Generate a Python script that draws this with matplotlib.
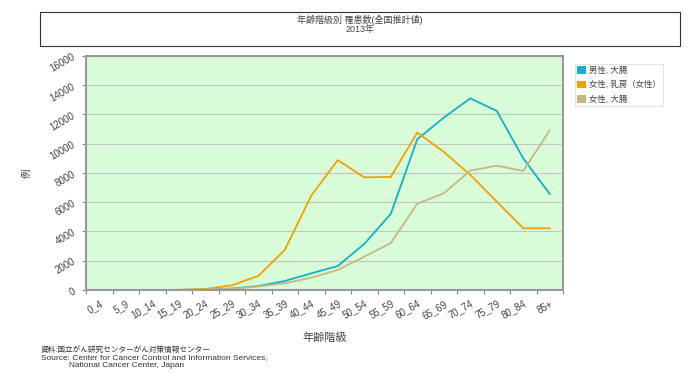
import numpy as np
import matplotlib.pyplot as plt
from matplotlib.patches import Rectangle, Patch

plt.rcParams['font.family'] = ['Liberation Sans', 'Noto Sans CJK JP', 'DejaVu Sans']

# 年齢階級
ages = ["0_4", "5_9", "10_14", "15_19", "20_24", "25_29", "30_34", "35_39", "40_44",
        "45_49", "50_54", "55_59", "60_64", "65_69", "70_74", "75_79", "80_84", "85+"]

# 罹患数 (読み取り値)
male_colon = [0, 0, 2, 10, 40, 100, 270, 615, 1140, 1640, 3150, 5200, 10300, 11780,
              13100, 12240, 9000, 6560]
female_breast = [0, 0, 2, 10, 70, 320, 960, 2740, 6450, 8880, 7700, 7730, 10760, 9440,
                 7870, 6040, 4220, 4220]
female_colon = [0, 0, 2, 8, 30, 80, 240, 460, 840, 1370, 2280, 3210, 5900, 6610,
                8160, 8500, 8140, 10920]

labels = ["男性, 大腸", "女性, 乳房（女性）", "女性, 大腸"]
colors = ["#10b2c8", "#f2a100", "#c8b880"]
txtc = "#444444"

fig = plt.figure(figsize=(7, 3.73), dpi=100)
ax = fig.add_axes([0.1229, 0.2225, 0.6814, 0.6275])

x = np.arange(len(ages))
for vals, lab, c in zip([male_colon, female_breast, female_colon], labels, colors):
    ax.plot(x, vals, color=c, lw=1.3, label=lab)

ax.set_facecolor("#d8fcd8")
ax.set_xlim(-0.5, len(ages) - 0.5)
ax.set_ylim(0, 16000)
ax.set_yticks(np.arange(0, 16001, 2000))
ax.yaxis.grid(True, color="#c4c4c4", lw=0.8)
ax.set_axisbelow(True)

# 目盛りは区間の境目、ラベルは区間の中央
ax.set_xticks(np.arange(-0.5, len(ages), 1.0))
ax.set_xticklabels([])
ax.set_xticks(x, minor=True)
ax.set_xticklabels(ages, minor=True, rotation=30, ha="right", rotation_mode="anchor",
                   fontsize=7, color=txtc)
ax.tick_params(axis="x", which="minor", length=0, pad=6)
ax.tick_params(axis="x", which="major", length=3, color="#888888")
ax.tick_params(axis="y", length=3, color="#888888", labelsize=7, labelcolor=txtc)
for t in ax.get_yticklabels():
    t.set_rotation(30)

for s in ax.spines.values():
    s.set_color("#999999")
    s.set_linewidth(1.5)

ax.set_ylabel("例", fontsize=7, color=txtc, labelpad=12)
ax.set_xlabel("年齢階級", fontsize=8, color=txtc, labelpad=8)

# タイトル枠
fig.patches.append(Rectangle((0.057, 0.877), 0.914, 0.091, transform=fig.transFigure,
                             fill=False, ec="#333333", lw=0.8))
fig.text(0.514, 0.947, "年齢階級別 罹患数(全国推計値)", ha="center", va="center",
         fontsize=6.5, color=txtc)
fig.text(0.514, 0.920, "2013年", ha="center", va="center", fontsize=6.5, color=txtc)

handles = [Patch(facecolor=c, edgecolor="none") for c in colors]
leg = fig.legend(handles, labels, loc="upper left", bbox_to_anchor=(0.815, 0.84),
                 fontsize=6, frameon=True, fancybox=False, handlelength=1.0,
                 handleheight=1.0, handletextpad=0.4, labelspacing=0.7,
                 borderpad=0.3)
leg.get_frame().set_edgecolor("#dddddd")
leg.get_frame().set_linewidth(0.8)
for t in leg.get_texts():
    t.set_color(txtc)

fig.text(0.058, 0.063, "資料:国立がん研究センターがん対策情報センター", fontsize=5.5,
         color="#333333", va="center")
fig.text(0.058, 0.041, "Source: Center for Cancer Control and Information Services,",
         fontsize=6, color="#333333", va="center")
fig.text(0.098, 0.019, "National Cancer Center, Japan", fontsize=6, color="#333333",
         va="center")

fig.savefig("out.png", dpi=100)
